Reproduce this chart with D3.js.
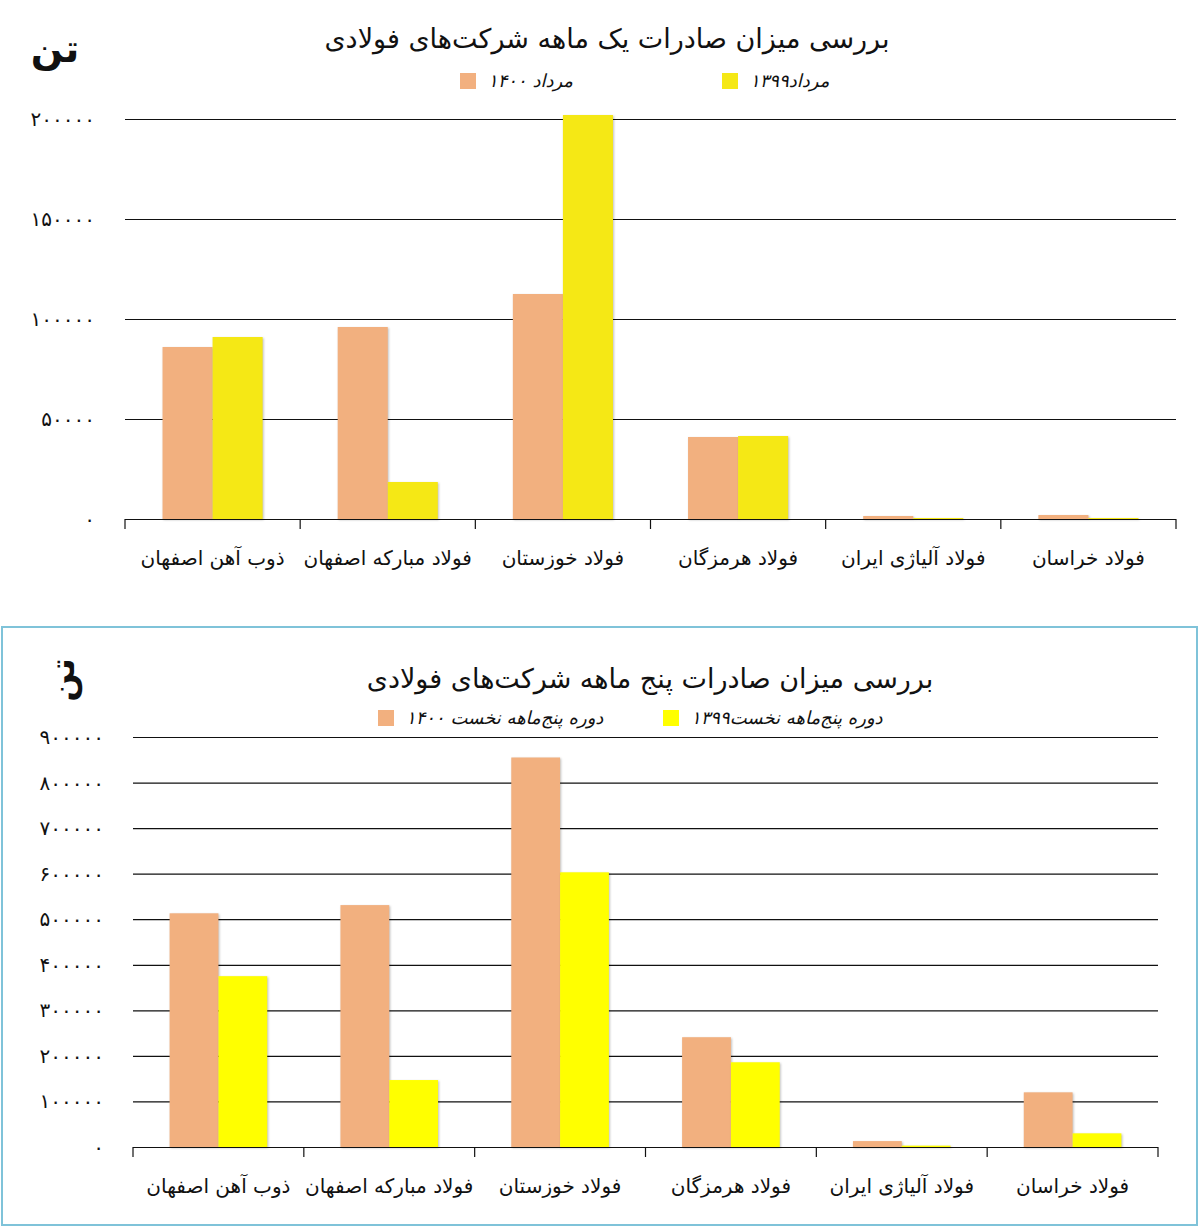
<!DOCTYPE html>
<html>
<head>
<meta charset="utf-8">
<title>صادرات شرکت‌های فولادی</title>
<script src="https://d3js.org/d3.v7.min.js"></script>
<style>
  body { margin: 0; background: #fff; }
  text { font-family: "DejaVu Sans", sans-serif; }
</style>
</head>
<body>
<svg width="1200" height="1228"></svg>
<script>
// شرکت‌ها (از چپ به راست)
var companies = ["ذوب آهن اصفهان", "فولاد مبارکه اصفهان", "فولاد خوزستان", "فولاد هرمزگان", "فولاد آلیاژی ایران", "فولاد خراسان"];

// نمودار بالا: یک ماهه (تن)
var month1400 = [86000, 96000, 112500, 41000, 1500, 2000];
var month1399 = [91000, 18500, 202000, 41500, 500, 500];
var monthTicks = [0, 50000, 100000, 150000, 200000];
var monthSeries = ["مرداد ۱۴۰۰", "مرداد۱۳۹۹"];

// نمودار پایین: پنج ماهه (تن)
var five1400 = [513000, 531000, 855000, 241000, 13000, 120000];
var five1399 = [375000, 147000, 603000, 186000, 3000, 30000];
var fiveTicks = [0, 100000, 200000, 300000, 400000, 500000, 600000, 700000, 800000, 900000];
var fiveSeries = ["دوره پنج‌ماهه نخست ۱۴۰۰", "دوره پنج‌ماهه نخست۱۳۹۹"];

var svg = d3.select("svg");
var fa = function(n) {
  return String(n).replace(/\d/g, function(c) { return "۰۱۲۳۴۵۶۷۸۹"[+c]; });
};

function drawChart(o) {
  var g = svg.append("g");
  var x = d3.scaleBand().domain(companies).range([o.left, o.right]).paddingInner(0).paddingOuter(0);
  var xs = d3.scaleBand().domain([0, 1]).range([0, x.bandwidth()]).paddingInner(0).paddingOuter(o.pad);
  var y = d3.scaleLinear().domain([0, o.max]).range([o.bottom, o.top]);

  // خطوط شبکه
  g.selectAll(".grid").data(o.ticks.filter(function(d) { return d > 0; }))
    .enter().append("line")
    .attr("x1", o.left).attr("x2", o.right)
    .attr("y1", function(d) { return y(d) + 0.5; }).attr("y2", function(d) { return y(d) + 0.5; })
    .attr("stroke", "#111").attr("stroke-width", 1.2);

  // برچسب‌های محور عمودی
  g.selectAll(".ylab").data(o.ticks).enter().append("text")
    .attr("x", o.labelX + 3).attr("y", function(d) { return y(d); })
    .attr("dy", "0.35em").attr("text-anchor", "end")
    .attr("font-size", 20).attr("letter-spacing", 3).attr("fill", "#111")
    .text(function(d) { return fa(d); });

  // ستون‌ها
  var series = [o.a, o.b];
  var colors = ["#f2b07f", o.yellow];
  series.forEach(function(vals, si) {
    g.selectAll(".bar" + si).data(vals).enter().append("rect")
      .attr("x", function(d, i) { return x(companies[i]) + xs(si); })
      .attr("y", function(d) { return y(d); })
      .attr("width", xs.bandwidth())
      .attr("height", function(d) { return o.bottom - y(d); })
      .attr("fill", colors[si])
      .style("filter", "drop-shadow(1px 1px 1px rgba(0,0,0,0.25))");
  });

  // محور افقی
  var ax = g.append("g").attr("transform", "translate(0," + o.bottom + ")")
    .call(d3.axisBottom(x).tickSize(0).tickFormat(""));
  ax.select(".domain").attr("stroke", "#111").attr("stroke-width", 1.2).attr("d", "M" + o.left + ",0.5H" + o.right);
  var edges = companies.map(function(c) { return x(c); }).concat([o.right]);
  g.selectAll(".tk").data(edges).enter().append("line")
    .attr("x1", function(d) { return d; }).attr("x2", function(d) { return d; })
    .attr("y1", o.bottom).attr("y2", o.bottom + 10)
    .attr("stroke", "#111").attr("stroke-width", 1.2);

  g.selectAll(".xlab").data(companies).enter().append("text")
    .attr("x", function(d) { return x(d) + x.bandwidth() / 2; })
    .attr("y", o.bottom + o.catDy)
    .attr("text-anchor", "middle").attr("font-size", 20).attr("fill", "#111")
    .text(function(d) { return d; });

  // عنوان
  g.append("text").attr("x", o.titleX).attr("y", o.titleY)
    .attr("text-anchor", "middle").attr("font-size", 27).attr("fill", "#111")
    .text(o.title);

  // راهنما
  o.legend.forEach(function(l, i) {
    g.append("rect").attr("x", l.x).attr("y", o.legendY - 8).attr("width", 16).attr("height", 16)
      .attr("fill", colors[i]);
    g.append("text").attr("x", l.x + 28).attr("y", o.legendY)
      .attr("dy", "0.35em").attr("font-size", 18).attr("font-style", "italic").attr("fill", "#111")
      .text(o.seriesNames[i]);
  });
}

drawChart({
  left: 125, right: 1176, top: 119, bottom: 519, max: 200000, pad: 0.75,
  ticks: monthTicks, a: month1400, b: month1399, yellow: "#f5e815",
  labelX: 92, catDy: 46, title: "بررسی میزان صادرات یک ماهه شرکت‌های فولادی",
  titleX: 607, titleY: 48, legendY: 81, seriesNames: monthSeries,
  legend: [{ x: 460 }, { x: 722 }]
});

// قاب نمودار پایین
svg.append("rect").attr("x", 2).attr("y", 627).attr("width", 1195).attr("height", 598)
  .attr("fill", "none").attr("stroke", "#7fc3d9").attr("stroke-width", 2);

drawChart({
  left: 133, right: 1158, top: 737, bottom: 1147, max: 900000, pad: 0.75,
  ticks: fiveTicks, a: five1400, b: five1399, yellow: "#ffff00",
  labelX: 101, catDy: 46, title: "بررسی میزان صادرات پنج ماهه شرکت‌های فولادی",
  titleX: 650, titleY: 688, legendY: 718, seriesNames: fiveSeries,
  legend: [{ x: 378 }, { x: 663 }]
});

// واحد
svg.append("text").attr("x", 55).attr("y", 62).attr("text-anchor", "middle")
  .attr("font-size", 38).attr("font-weight", "bold").attr("fill", "#111").text("تن");
svg.append("text").attr("transform", "translate(62,680) rotate(-90)").attr("text-anchor", "middle")
  .attr("dy", "0.35em").attr("font-size", 34).attr("font-weight", "bold").attr("fill", "#111").text("تن");
</script>
</body>
</html>
